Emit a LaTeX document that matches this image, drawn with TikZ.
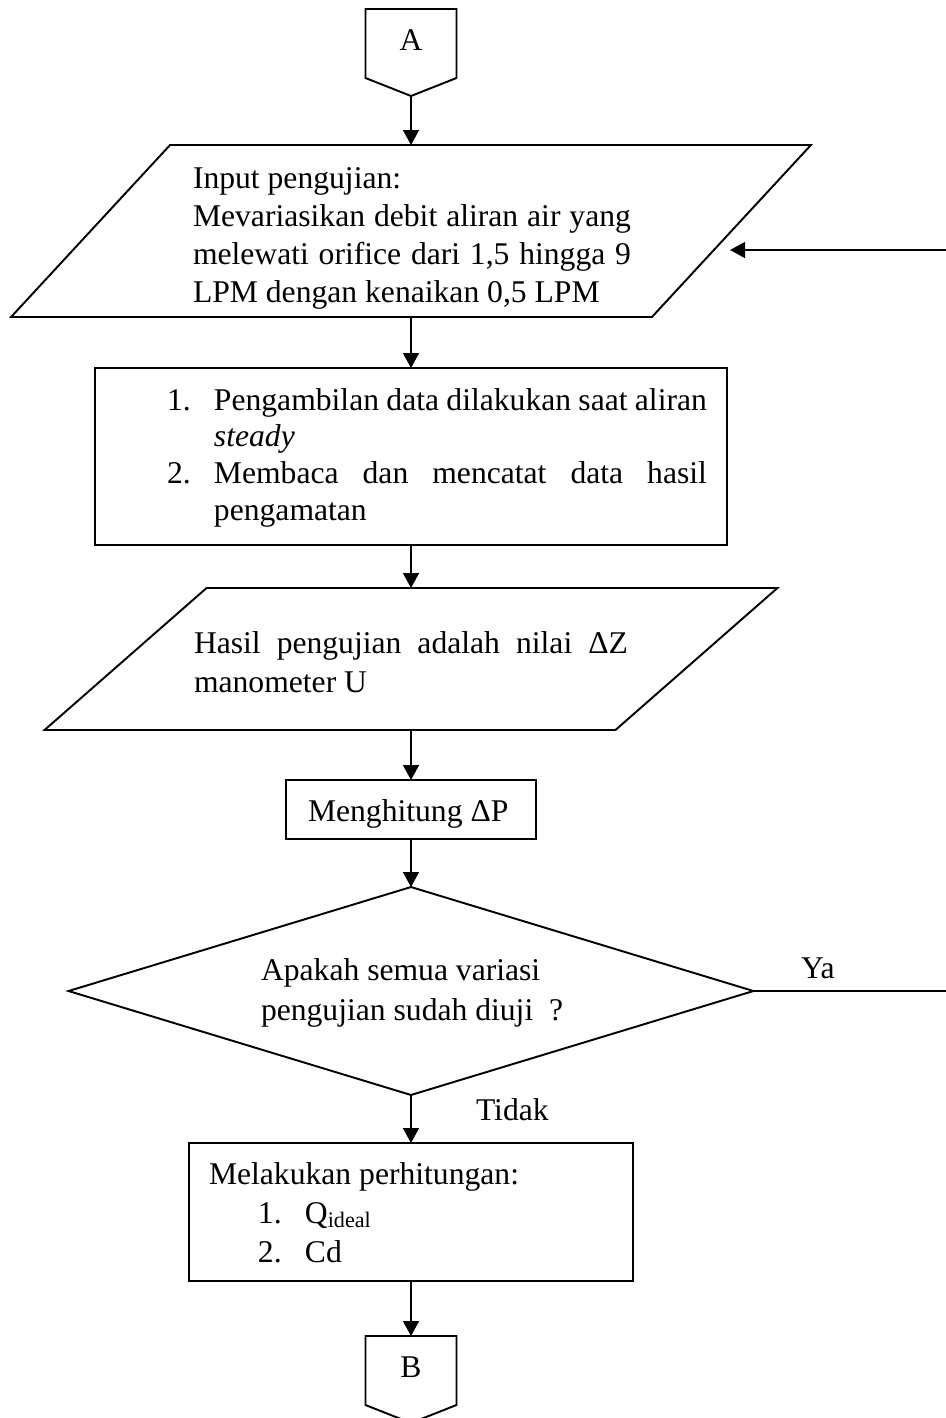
\documentclass[tikz,border=0pt]{standalone}
\usepackage{fontspec}
\setmainfont{Liberation Serif}
\usetikzlibrary{arrows.meta,shapes.geometric}
\begin{document}
\begin{tikzpicture}[x=0.02cm,y=-0.02cm,
  shp/.style={draw=black,line width=1.1pt},
  box/.style={draw=black,line width=1.1pt,inner sep=0pt,outer sep=0pt},
  frame/.style={inner sep=0pt,outer sep=0pt},
  txt/.style={inner sep=0pt,outer sep=0pt,font=\fontsize{18}{21}\selectfont,align=left},
  arr/.style={line width=0.75pt,-{Triangle[length=0.3cm,width=0.32cm]}}]
\useasboundingbox (0,0) rectangle (946,1418);
\clip (0,0) rectangle (946,1418);

% connector A
\node[frame,minimum width=1.82cm,minimum height=1.74cm] (A) at (411,52.5) {};
\draw[shp] (A.north west) -- (A.north east) -- ([yshift=0.36cm]A.south east) -- (A.south) -- ([yshift=0.36cm]A.south west) -- cycle;
\node[txt,anchor=base] (Atxt) at (411,50) {A};

% input parallelogram
\node[frame,minimum width=16cm,minimum height=3.44cm] (p1) at (411,231) {};
\draw[shp] ([xshift=3.18cm]p1.north west) -- (p1.north east) -- ([xshift=-3.18cm]p1.south east) -- (p1.south west) -- cycle;
\node[txt,font=\fontsize{18}{21.6}\selectfont,anchor=north west] (p1txt) at (193,162.4) {\strut Input pengujian:\\
\makebox[8.76cm][s]{Mevariasikan debit aliran air yang}\\
\makebox[8.76cm][s]{melewati orifice dari 1,5 hingga 9}\\
LPM dengan kenaikan 0,5 LPM};

% process box
\node[box,minimum width=12.64cm,minimum height=3.54cm] (r1) at (411,456.5) {};
\node[txt,anchor=north west] (r1txt) at (167,384.2) {\strut\makebox[0.94cm][l]{1.}\makebox[9.86cm][s]{Pengambilan data dilakukan saat aliran}\\
\hspace*{0.94cm}\textit{steady}\\
\makebox[0.94cm][l]{2.}\makebox[9.86cm][s]{Membaca dan mencatat data hasil}\\
\hspace*{0.94cm}pengamatan};

% output parallelogram
\node[frame,minimum width=14.66cm,minimum height=2.84cm] (p2) at (411,659) {};
\draw[shp] ([xshift=3.24cm]p2.north west) -- (p2.north east) -- ([xshift=-3.24cm]p2.south east) -- (p2.south west) -- cycle;
\node[txt,font=\fontsize{18}{22.2}\selectfont,anchor=north west] (p2txt) at (194,625.7) {\strut\makebox[8.68cm][s]{Hasil pengujian adalah nilai ΔZ}\\
manometer U};

% compute box
\node[box,minimum width=5cm,minimum height=1.18cm] (m) at (411,809.5) {};
\node[txt,anchor=base west] (mtxt) at (308,821) {Menghitung ΔP};

% decision
\node[draw=black,diamond,line width=1.1pt,inner sep=0pt,outer sep=0pt,minimum width=13.7cm,minimum height=4.16cm] (D) at (411,991) {};
\node[txt,font=\fontsize{18}{22.8}\selectfont,anchor=north west] (Dtxt) at (261,952) {\strut Apakah semua variasi\\
pengujian sudah diuji\ \ ?};
\node[txt,anchor=base west] (ya) at (801,978) {Ya};
\node[txt,anchor=base west] (tidak) at (476,1120) {Tidak};

% calculation box
\node[box,minimum width=8.88cm,minimum height=2.76cm] (b) at (411,1212) {};
\node[txt,font=\fontsize{18}{22.2}\selectfont,anchor=north west] (btxt) at (209,1156.7) {\strut Melakukan perhitungan:\\
\hspace*{0.98cm}\makebox[0.94cm][l]{1.}Q\textsubscript{ideal}\\
\hspace*{0.98cm}\makebox[0.94cm][l]{2.}Cd};

% connector B
\node[frame,minimum width=1.82cm,minimum height=1.74cm] (Bn) at (411,1379.5) {};
\draw[shp] (Bn.north west) -- (Bn.north east) -- ([yshift=0.36cm]Bn.south east) -- (Bn.south) -- ([yshift=0.36cm]Bn.south west) -- cycle;
\node[txt,anchor=base] (Btxt) at (411,1377) {B};

% connectors
\draw[arr] (A.south) -- (p1.north);
\draw[arr] (p1.south) -- (r1.north);
\draw[arr] (r1.south) -- (p2.north);
\draw[arr] (p2.south) -- (m.north);
\draw[arr] (m.south) -- (D.north);
\draw[arr] (D.south) -- (b.north);
\draw[arr] (b.south) -- (Bn.north);
\coordinate (loop) at (1000,250);
\coordinate (p1in) at (730,250);
\draw[arr] (D.east) -| (loop) -- (p1in);
\end{tikzpicture}
\end{document}
